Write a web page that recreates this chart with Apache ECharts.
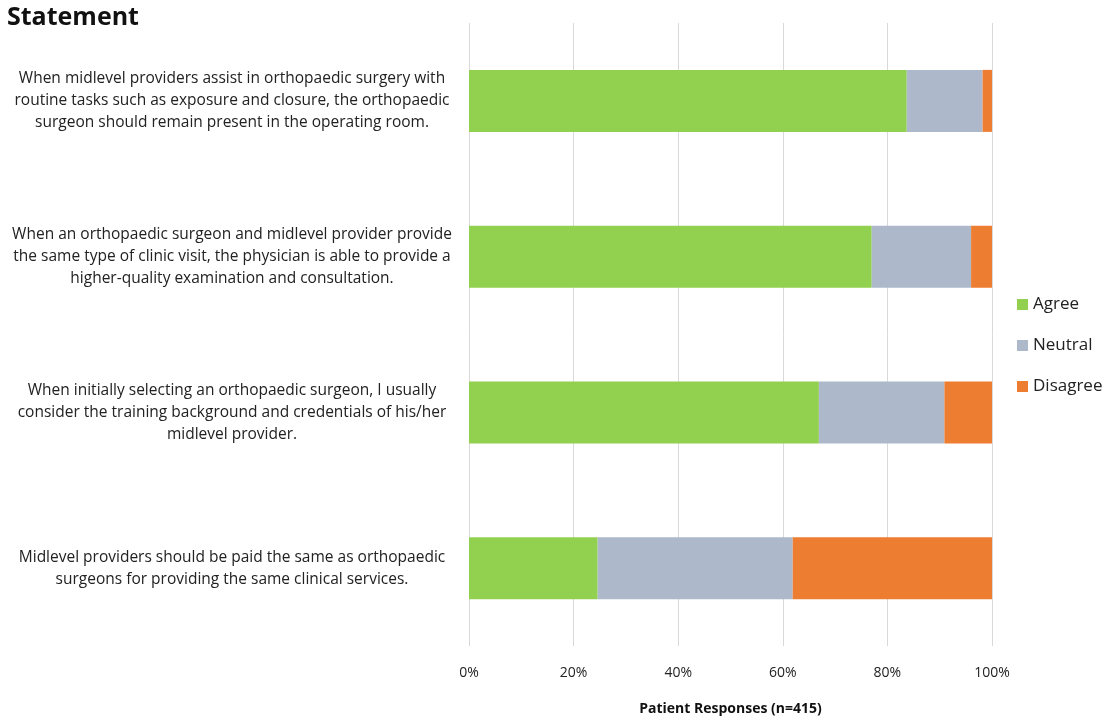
<!DOCTYPE html>
<html>
<head>
<meta charset="utf-8">
<script src="https://cdn.jsdelivr.net/npm/echarts@6/dist/echarts.min.js"></script>
<style>
  html, body { margin: 0; padding: 0; background: #fff; }
  #chart { width: 1105px; height: 721px; }
</style>
</head>
<body>
<div id="chart"></div>
<script>
// statements, top to bottom
var statements = [
    'When midlevel providers assist in orthopaedic surgery with\nroutine tasks such as exposure and closure, the orthopaedic\nsurgeon should remain present in the operating room.',
    'When an orthopaedic surgeon and midlevel provider provide\nthe same type of clinic visit, the physician is able to provide a\nhigher-quality examination and consultation.',
    'When initially selecting an orthopaedic surgeon, I usually\nconsider the training background and credentials of his/her\nmidlevel provider.',
    'Midlevel providers should be paid the same as orthopaedic\nsurgeons for providing the same clinical services.'
];
var seriesNames = ['Agree', 'Neutral', 'Disagree'];
var agree = [83.7, 77.0, 66.9, 24.6];
var neutral = [14.5, 19.0, 24.0, 37.3];
var disagree = [1.8, 4.0, 9.1, 38.1];
var colors = ['#92D050', '#ADB9CA', '#ED7D31'];

var fontFam = '"Open Sans", "Noto Sans", sans-serif';

var chart = echarts.init(document.getElementById('chart'));

var option = {
    animation: false,
    textStyle: { fontFamily: fontFam },
    title: {
        text: 'Statement',
        left: 7,
        top: 5,
        padding: 0,
        textStyle: { fontSize: 25, fontWeight: 'bold', color: '#111', fontFamily: fontFam }
    },
    legend: {
        orient: 'vertical',
        left: 1012,
        top: 291,
        itemWidth: 11,
        itemHeight: 11,
        itemGap: 24,
        icon: 'rect',
        data: seriesNames,
        textStyle: { fontSize: 17, color: '#222', fontFamily: fontFam }
    },
    grid: {
        left: 469,
        right: 113,
        top: 23,
        bottom: 75
    },
    xAxis: {
        type: 'value',
        min: 0,
        max: 100,
        interval: 20,
        name: 'Patient Responses (n=415)',
        nameLocation: 'middle',
        nameGap: 56,
        nameTextStyle: { fontSize: 14, fontWeight: 'bold', color: '#111', fontFamily: fontFam },
        axisLine: { show: false },
        axisTick: { show: false },
        axisLabel: {
            formatter: '{value}%',
            fontSize: 14,
            color: '#222',
            margin: 20
        },
        splitLine: { show: true, lineStyle: { color: '#d9d9d9', width: 1 } }
    },
    yAxis: {
        type: 'category',
        inverse: true,
        data: statements,
        axisLine: { show: false },
        axisTick: { show: false },
        axisLabel: {
            align: 'center',
            margin: 237,
            fontSize: 15.5,
            lineHeight: 22,
            color: '#222'
        }
    },
    series: [
        { name: seriesNames[0], type: 'bar', stack: 'total', data: agree, barWidth: 62, itemStyle: { color: colors[0] } },
        { name: seriesNames[1], type: 'bar', stack: 'total', data: neutral, barWidth: 62, itemStyle: { color: colors[1] } },
        { name: seriesNames[2], type: 'bar', stack: 'total', data: disagree, barWidth: 62, itemStyle: { color: colors[2] } }
    ]
};

chart.setOption(option);
</script>
</body>
</html>
